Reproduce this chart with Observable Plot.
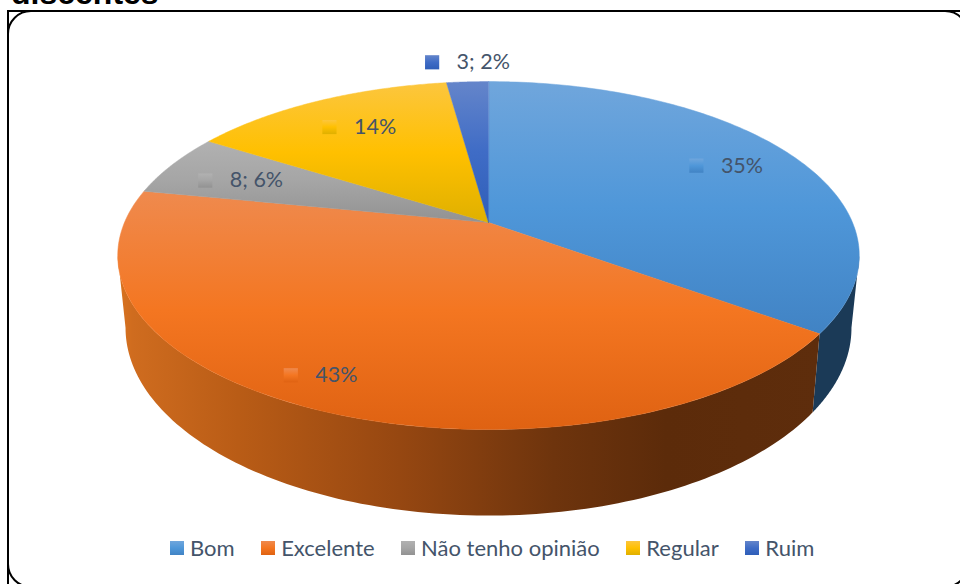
<!DOCTYPE html>
<html><head><meta charset="utf-8">
<script src="https://cdn.jsdelivr.net/npm/d3@7"></script>
<script src="https://cdn.jsdelivr.net/npm/@observablehq/plot@0.6"></script>
<style>
html,body{margin:0;padding:0;background:#fff;width:960px;height:584px;overflow:hidden;font-family:Lato,sans-serif}
#title{position:absolute;left:11px;top:-23.5px;font:bold 32px/32px "Liberation Sans",Arial,sans-serif;color:#000;white-space:nowrap}
.frame{position:absolute;box-sizing:border-box;border:2px solid #000;left:7px;top:10px;width:962px;height:578px;pointer-events:none}
.frame.round{border-radius:24px}
#chart{position:absolute;left:0;top:0}
#legend{position:absolute;left:170px;top:533px;display:flex;align-items:center;font-size:22px;line-height:30px;color:#44546a;white-space:nowrap}
#legend .item{display:flex;align-items:center}
#legend .key{width:14px;height:14px;margin-right:6px}
</style></head><body>
<div id="title">discentes</div>
<div id="chart"></div>
<div id="legend"></div>
<div class="frame"></div>
<div class="frame round"></div>
<script>
const categories = ["Bom", "Excelente", "Não tenho opinião", "Regular", "Ruim"];
const counts = [48, 59, 8, 19, 3];
const labels = ["35%", "43%", "8; 6%", "14%", "3; 2%"];

// light / base / dark stops of each slice colour
const tops = [
  ["#70a6dc", "#4f97d9", "#4183c4"],
  ["#ef8a4e", "#f47621", "#df6212"],
  ["#b1b1b1", "#a5a5a5", "#929292"],
  ["#fcc63e", "#ffc000", "#dfb000"],
  ["#6485ca", "#3f6cc6", "#2f5eb8"]
];

// camera of the tilted disc
const W = 960, H = 533;
const cx = 488, cy = 222, rx = 364, ry = 167.7, k = 0.19, depth = 69.7, shrink = 0.979;
const rad = (a) => a * Math.PI / 180;
function project(deg, r = 1, low = false) {
  const u = r * Math.sin(rad(deg)), v = r * Math.cos(rad(deg)), d = 1 + k * v;
  const x = rx * u / d, y = -ry * v / d;
  return low ? {x: cx + shrink * x, y: cy + y + depth / d} : {x: cx + x, y: cy + y};
}
const total = d3.sum(counts);
let acc = 0;
const slices = categories.map((name, i) => {
  const a0 = acc / total * 360; acc += counts[i]; const a1 = acc / total * 360;
  return {i, name, a0, a1, mid: (a0 + a1) / 2, label: labels[i]};
});
const silhouette = Math.acos(-k) * 180 / Math.PI; // angle where the rim turns away
const steps = (a, b) => d3.range(0, 121).map((j) => a + (b - a) * j / 120);
const face = (s) => [{x: cx, y: cy}, ...steps(s.a0, s.a1).map((a) => project(a))];
function wall(s) {
  const a = Math.max(s.a0, silhouette), b = Math.min(s.a1, 360 - silhouette);
  if (a >= b) return null;
  return [...steps(a, b).map((t) => project(t)), ...steps(a, b).reverse().map((t) => project(t, 1, true))];
}
const nudges = [[-35, 0], [-62, 10], [-27, 5], [-19, 4.5], [-39, -44]];
const defs = () => {
  const svg = d3.create("svg:g");
  const d = svg.append("defs");
  tops.forEach((c, i) => {
    const g = d.append("linearGradient").attr("id", `top${i}`).attr("x1", 0).attr("x2", 0).attr("y1", 0).attr("y2", 1);
    g.append("stop").attr("offset", "0%").attr("stop-color", c[0]);
    g.append("stop").attr("offset", "50%").attr("stop-color", c[1]);
    g.append("stop").attr("offset", "100%").attr("stop-color", c[2]);
  });
  const w = d.append("linearGradient").attr("id", "wall1").attr("gradientUnits", "userSpaceOnUse")
    .attr("x1", 118).attr("x2", 820).attr("y1", 0).attr("y2", 0);
  [[0, "#d9731f"], [0.02, "#cf6c1f"], [0.17, "#b95c16"], [0.4, "#964711"], [0.62, "#6e340d"], [0.78, "#5c2b0a"], [1, "#5e2d0c"]]
    .forEach(([o, c]) => w.append("stop").attr("offset", o).attr("stop-color", c));
  return svg.node();
};
const plot = Plot.plot({
  width: W, height: H, margin: 0,
  x: {domain: [0, W], range: [0, W], axis: null},
  y: {domain: [0, H], range: [0, H], axis: null},
  marks: [
    defs,
    ...slices.filter(wall).map((s) => Plot.line(wall(s), {x: "x", y: "y", curve: "linear-closed", stroke: "none",
      fill: s.i === 0 ? "#1b3a57" : "url(#wall1)"})),
    ...slices.map((s) => Plot.line(face(s), {x: "x", y: "y", curve: "linear-closed", strokeWidth: 0.5, stroke: `url(#top${s.i})`, fill: `url(#top${s.i})`})),
    ...slices.flatMap((s) => {
      const [dx, dy] = nudges[s.i];
      const p = [project(s.mid, 0.8)];
      return [
        Plot.dot(p, {x: "x", y: "y", dx, dy, symbol: "square", r: 8, stroke: "none", fill: `url(#top${s.i})`}),
        Plot.text(p, {x: "x", y: "y", dx: dx + 24.5, dy, text: () => s.label, textAnchor: "start", fontSize: 21.5, fontFamily: "Lato", fill: "#44546a"})
      ];
    })
  ]
});
document.getElementById("chart").append(plot);
const legend = d3.select("#legend");
categories.forEach((name, i) => {
  const item = legend.append("div").attr("class", "item").style("margin-right", i < categories.length - 1 ? "26.5px" : "0");
  item.append("div").attr("class", "key").style("background", `linear-gradient(${tops[i][0]},${tops[i][1]} 50%,${tops[i][2]})`);
  item.append("div").text(name);
});
</script></body></html>
